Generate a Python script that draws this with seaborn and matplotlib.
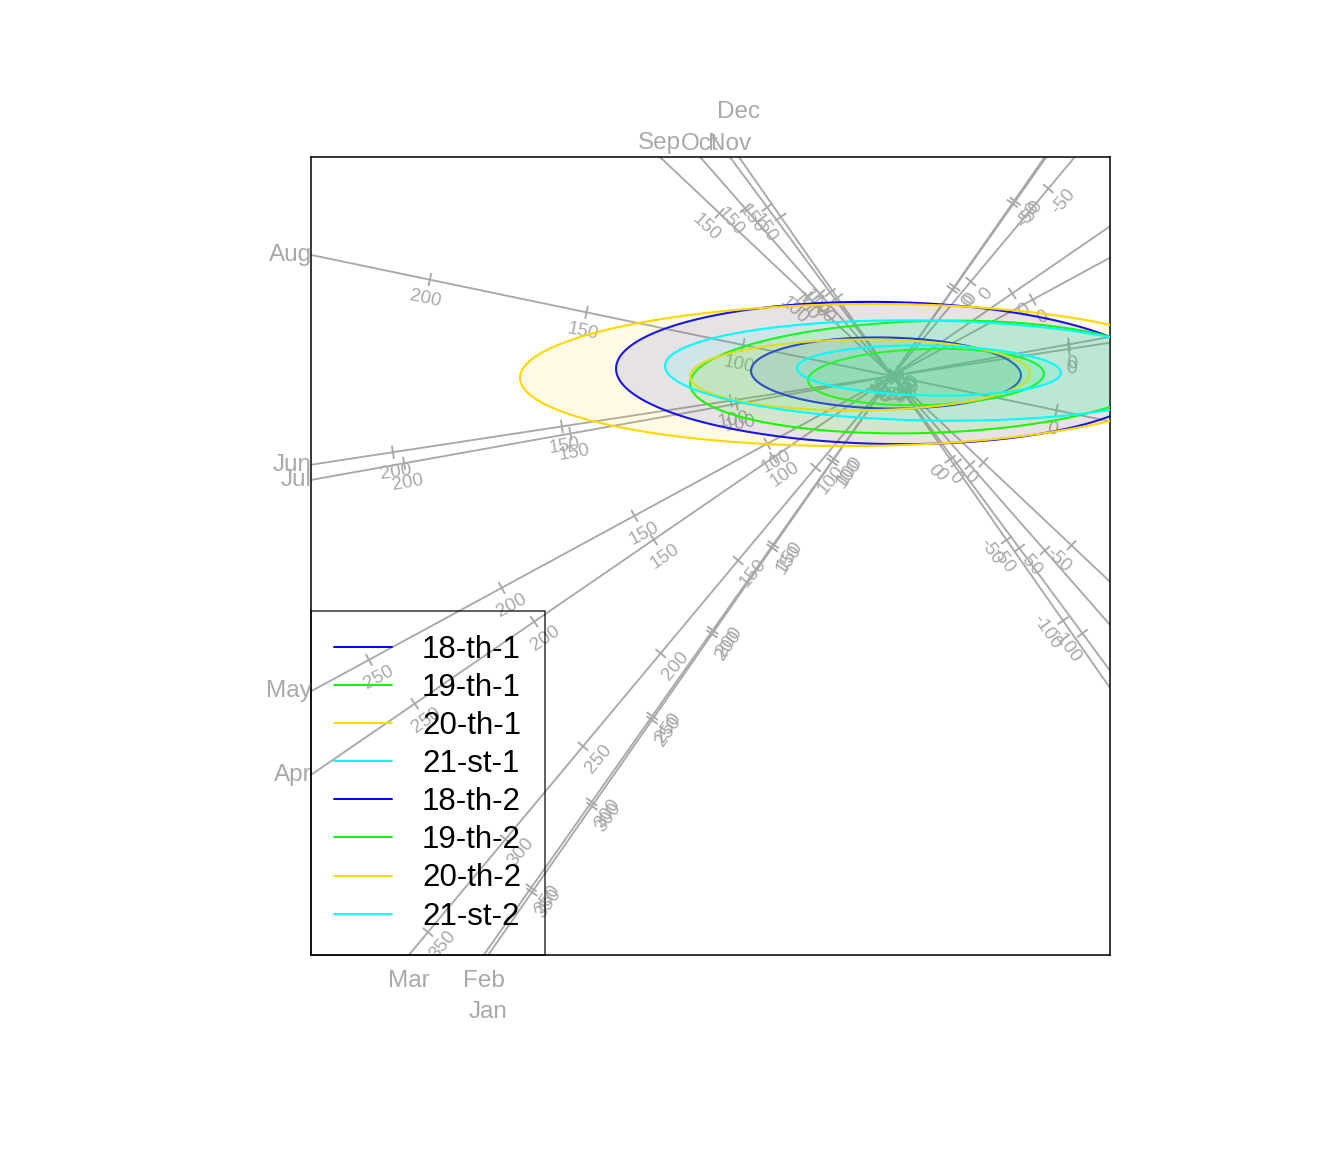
import numpy as np
import pandas as pd
import matplotlib
matplotlib.use("Agg")
import matplotlib.pyplot as plt
import seaborn as sns
from matplotlib.lines import Line2D

# ---------------- data ----------------
months = ["Jan", "Feb", "Mar", "Apr", "May", "Jun", "Jul", "Aug", "Sep", "Oct", "Nov", "Dec"]
# biplot axis loadings: displacement (plot units) per unit of the variable
load_x = [-0.01201, -0.01210, -0.01551, -0.02390, -0.02655, -0.03379,
          -0.03326, -0.03133, -0.01759, -0.01499, -0.01261, -0.01129]
load_y = [-0.01722, -0.01716, -0.01859, -0.01641, -0.01441, -0.00516,
          -0.00595, 0.00653, 0.01660, 0.01711, 0.01704, 0.01615]
month_means = [50.2, 51.8, 50.8, 50.3, 53.0, 52.3, 53.3, 52.5, 52.0, 52.0, 51.0, 51.5]
tick_values = [-150, -100, -50, 0, 50, 100, 150, 200, 250, 300, 350, 400]

groups = ["18-th", "19-th", "20-th", "21-st"]
group_colors = ["#0000FF", "#00FF00", "#FFD700", "#00FFFF"]
ell_cx = [-0.06, 0.34, -0.32, 0.37]
ell_cy = [0.03, -0.01, 0.01, 0.055]
ell_a = [1.35, 1.18, 1.70, 1.32]
ell_b = [0.355, 0.28, 0.355, 0.25]
ell_angle = [-1.0, 1.7, 0.5, -1.0]
ell_levels = [1, 2]

xlim = (-5.81, 2.18)
ylim = (-5.79, 2.19)

# ---------------- style ----------------
sns.set_theme(style="white")
plt.rcParams["font.family"] = ["Liberation Sans", "DejaVu Sans"]
GRAY = "#A9A9A9"

fig = plt.figure(figsize=(13.44, 11.52), dpi=100)
ax = fig.add_axes([311 / 1344, (1152 - 955) / 1152, 799 / 1344, 798 / 1152])
ax.set_xlim(*xlim)
ax.set_ylim(*ylim)
PX = (xlim[1] - xlim[0]) / 799.0  # data units per pixel

# ---------------- biplot axes ----------------
rows = []
for m, lx, ly in zip(months, load_x, load_y):
    n = np.hypot(lx, ly)
    ux, uy = lx / n, ly / n
    for t in (-20, 20):
        rows.append({"month": m, "x": t * ux, "y": t * uy})
df_lines = pd.DataFrame(rows)
sns.lineplot(data=df_lines, x="x", y="y", units="month", estimator=None, sort=False,
             color=GRAY, lw=1.35, ax=ax, legend=False, zorder=1)

tick_half = 6 * PX
lab_off = 20 * PX
for m, lx, ly, mu in zip(months, load_x, load_y, month_means):
    n = np.hypot(lx, ly)
    ux, uy = lx / n, ly / n
    px, py = -uy, ux
    ang = np.degrees(np.arctan2(uy, ux))
    if ang > 90:
        ang -= 180
    if ang <= -90:
        ang += 180
    for v in tick_values:
        tx, ty = (v - mu) * lx, (v - mu) * ly
        if not (xlim[0] < tx < xlim[1] and ylim[0] < ty < ylim[1]):
            continue
        ax.plot([tx - px * tick_half, tx + px * tick_half],
                [ty - py * tick_half, ty + py * tick_half], color=GRAY, lw=1.35, zorder=1)
        ax.text(tx + px * lab_off, ty + py * lab_off, f"{v}", rotation=ang,
                rotation_mode="anchor", ha="center", va="center", color=GRAY,
                fontsize=13.5, zorder=1.5, clip_on=True)

# month labels at the border where each axis leaves the plot
placed = []
info = []
for m, lx, ly in zip(months, load_x, load_y):
    n = np.hypot(lx, ly)
    ux, uy = lx / n, ly / n
    cands = []
    if ux < 0:
        cands.append((xlim[0] / ux, "left"))
    if ux > 0:
        cands.append((xlim[1] / ux, "right"))
    if uy > 0:
        cands.append((ylim[1] / uy, "top"))
    if uy < 0:
        cands.append((ylim[0] / uy, "bottom"))
    t, side = min(cands)
    info.append((m, t * ux, t * uy, side))

def along(item):
    m, ex, ey, side = item
    return ex if side in ("top", "bottom") else -ey

for item in sorted(info, key=along):
    m, ex, ey, side = item
    pos = along(item)
    level = 0
    while any(s == side and lv == level and abs(p - pos) < 12 * PX for s, lv, p in placed):
        level += 1
    placed.append((side, level, pos))
    if side == "left":
        off, ha = (0.5 - level * 30, 0), "right"
    elif side == "right":
        off, ha = (1 * 0.72 + level * 30, 0), "left"
    elif side == "top":
        off, ha = (0, (13.5 + 31 * level) * 0.72), "center"
    else:
        off, ha = (0, -(26 + 31 * level) * 0.72), "center"
    ax.annotate(m, (ex, ey), xytext=off, textcoords="offset points", ha=ha, va="center",
                color=GRAY, fontsize=17.5, annotation_clip=False)

# ---------------- ellipses ----------------
tt = np.linspace(0, 2 * np.pi, 400)
z = 2.0
for gi in range(len(groups)):
    phi = np.radians(ell_angle[gi])
    for lev in sorted(ell_levels, reverse=True):
        a, b = ell_a[gi] * lev, ell_b[gi] * lev
        ex = ell_cx[gi] + a * np.cos(tt) * np.cos(phi) - b * np.sin(tt) * np.sin(phi)
        ey = ell_cy[gi] + a * np.cos(tt) * np.sin(phi) + b * np.sin(tt) * np.cos(phi)
        ax.fill(ex, ey, color=group_colors[gi], alpha=0.1, lw=0, zorder=z)
        sns.lineplot(x=ex, y=ey, sort=False, estimator=None, color=group_colors[gi],
                     lw=1.5, ax=ax, zorder=z + 0.1)
        z += 0.2

ax.set_xlim(*xlim)
ax.set_ylim(*ylim)
ax.set_xticks([])
ax.set_yticks([])
ax.set_xlabel("")
ax.set_ylabel("")
for s in ax.spines.values():
    s.set_visible(True)
    s.set_color("black")
    s.set_linewidth(1.1)

# ---------------- legend ----------------
handles, labels = [], []
for lev in ell_levels:
    for g, c in zip(groups, group_colors):
        handles.append(Line2D([0], [0], color=c, lw=1.4))
        labels.append(f"{g}-{lev}")
leg = ax.legend(handles, labels, loc="lower left", bbox_to_anchor=(0, 0),
                borderaxespad=0, frameon=True, fancybox=False, fontsize=22.5,
                handlelength=1.85, handletextpad=0.95, labelspacing=0.26,
                borderpad=0.75, labelcolor="black")
leg.get_frame().set_edgecolor("black")
leg.get_frame().set_facecolor("none")
leg.get_frame().set_linewidth(1.1)
leg.set_zorder(10)

fig.savefig("out.png", dpi=100)
